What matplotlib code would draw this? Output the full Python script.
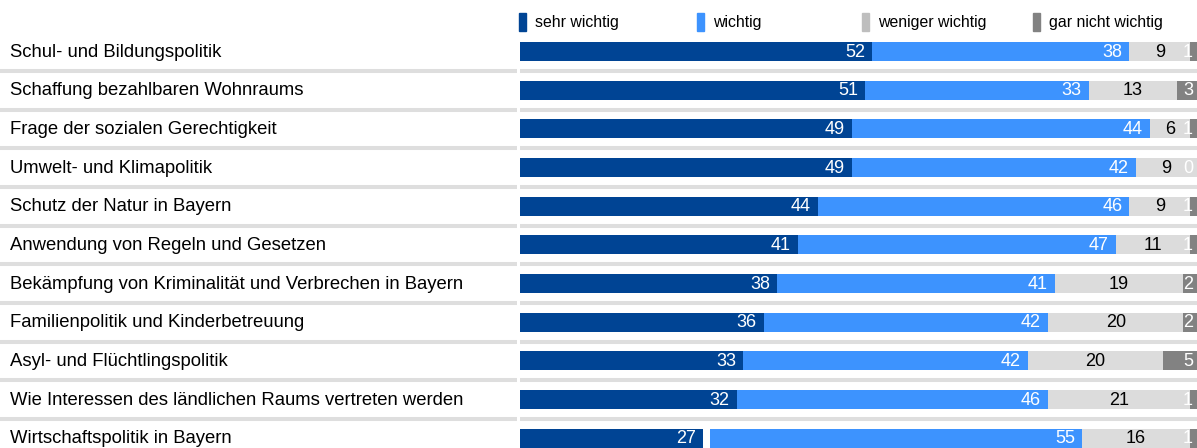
import matplotlib
matplotlib.use("Agg")
import matplotlib.pyplot as plt
from matplotlib.patches import Rectangle
from matplotlib.transforms import blended_transform_factory

plt.rcParams['font.family'] = ['Liberation Sans', 'DejaVu Sans']

# data (percent)
themen = [
    "Schul- und Bildungspolitik",
    "Schaffung bezahlbaren Wohnraums",
    "Frage der sozialen Gerechtigkeit",
    "Umwelt- und Klimapolitik",
    "Schutz der Natur in Bayern",
    "Anwendung von Regeln und Gesetzen",
    "Bekämpfung von Kriminalität und Verbrechen in Bayern",
    "Familienpolitik und Kinderbetreuung",
    "Asyl- und Flüchtlingspolitik",
    "Wie Interessen des ländlichen Raums vertreten werden",
    "Wirtschaftspolitik in Bayern",
]
sehr_wichtig = [52, 51, 49, 49, 44, 41, 38, 36, 33, 32, 27]
wichtig = [38, 33, 44, 42, 46, 47, 41, 42, 42, 46, 55]
weniger_wichtig = [9, 13, 6, 9, 9, 11, 19, 20, 20, 21, 16]
gar_nicht_wichtig = [1, 3, 1, 0, 1, 1, 2, 2, 5, 1, 1]
# rest to 100 (weiss nicht / keine Angabe), shown as a blank gap
luecke = [0, 0, 0, 0, 0, 0, 0, 0, 0, 0, 1]

legend_labels = ["sehr wichtig", "wichtig", "weniger wichtig", "gar nicht wichtig"]

c_dark = "#004494"
c_light = "#3d93fe"
c_grey = "#dcdcdc"
c_dgrey = "#828282"
c_leg_grey = "#bebebe"

W, H = 1197, 448
fig = plt.figure(figsize=(W / 100, H / 100), dpi=100)
ax = fig.add_axes([520 / W, 0, 677 / W, 1])
ax.set_xlim(0, 100)
row0 = 51.5
step = 38.67
ax.set_ylim((H - row0) / step, -row0 / step)
ax.axis("off")

px = 100 / 677  # one pixel in data units
bh = 19 / step
n = len(themen)
y = list(range(n))

left_w = [s + g for s, g in zip(sehr_wichtig, luecke)]
left_ww = [l + w for l, w in zip(left_w, wichtig)]
left_g = [l + w for l, w in zip(left_ww, weniger_wichtig)]

ax.barh(y, sehr_wichtig, height=bh, color=c_dark)
ax.barh(y, luecke, left=sehr_wichtig, height=bh, color="white")
ax.barh(y, wichtig, left=left_w, height=bh, color=c_light)
ax.barh(y, weniger_wichtig, left=left_ww, height=bh, color=c_grey)
ax.barh(y, gar_nicht_wichtig, left=left_g, height=bh, color=c_dgrey)

fs = 13
for i in range(n):
    ax.text(sehr_wichtig[i] - 7 * px, i + 0.02, str(sehr_wichtig[i]), ha="right", va="center",
            color="white", fontsize=fs)
    ax.text(left_w[i] + wichtig[i] - 7 * px, i + 0.02, str(wichtig[i]), ha="right", va="center",
            color="white", fontsize=fs)
    ax.text(left_ww[i] + weniger_wichtig[i] / 2, i + 0.02, str(weniger_wichtig[i]), ha="center",
            va="center", color="black", fontsize=fs)
    ax.text(left_g[i] + gar_nicht_wichtig[i] - 4 * px, i + 0.02, str(gar_nicht_wichtig[i]),
            ha="right", va="center", color="white", fontsize=fs)

# row labels and separator lines across the whole figure
tr = blended_transform_factory(fig.transFigure, ax.transData)
for i, t in enumerate(themen):
    ax.text(10 / W, i + 0.02, t, transform=tr, ha="left", va="center", fontsize=13.3,
            color="black")
for i in range(n - 1):
    ax.plot([0, 517 / W], [i + 0.5, i + 0.5], transform=tr, color="#dedede", lw=2.9,
            solid_capstyle="butt", clip_on=False)
    ax.plot([520 / W, 1], [i + 0.5, i + 0.5], transform=tr, color="#dedede", lw=2.9,
            solid_capstyle="butt", clip_on=False)

# legend on top
leg_x = [519, 697, 862, 1033]
leg_c = [c_dark, c_light, c_leg_grey, c_dgrey]
for x, c, lab in zip(leg_x, leg_c, legend_labels):
    fig.patches.append(Rectangle((x / W, 1 - 31 / H), 7 / W, 18 / H,
                                 transform=fig.transFigure, color=c))
    fig.text((x + 16) / W, 1 - 22 / H, lab, ha="left", va="center", fontsize=11.4)

fig.savefig("out.png", dpi=100)
